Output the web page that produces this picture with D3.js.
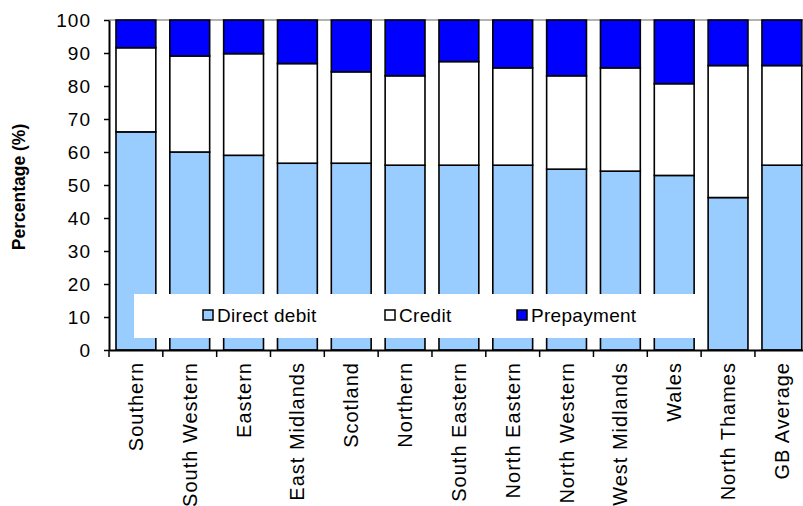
<!DOCTYPE html>
<html><head><meta charset="utf-8">
<script src="https://cdn.jsdelivr.net/npm/d3@7"></script>
<style>body{margin:0;background:#fff}svg{display:block}</style>
</head><body>
<script>
const categories = ["Southern","South Western","Eastern","East Midlands","Scotland","Northern","South Eastern","North Eastern","North Western","West Midlands","Wales","North Thames","GB Average"];
const directDebit = [66.1,60.0,59.0,56.6,56.6,56.0,56.0,56.0,54.8,54.2,52.9,46.2,56.0];
const credit      = [25.5,29.1,30.8,30.2,27.7,27.1,31.4,29.5,28.3,31.3,27.8,40.0,30.2];
const prepayment  = [8.4,10.9,10.2,13.2,15.7,16.9,12.6,14.5,16.9,14.5,19.3,13.8,13.8];
const seriesNames = ["Direct debit","Credit","Prepayment"];
const seriesColors = ["#99CCFF","#FFFFFF","#0000FF"];
const yTicks = [0,10,20,30,40,50,60,70,80,90,100];

const W = 803, H = 506;
const svg = d3.select("body").append("svg").attr("width",W).attr("height",H)
  .style("font-family","'Liberation Sans', Arial, sans-serif");

const x0 = 109, step = 53.83;
const x = d3.scaleBand().domain(categories).range([x0, x0 + step*13]).paddingInner(0.26).paddingOuter(0.13);
const y = d3.scaleLinear().domain([0,100]).range([350,20]);

const rows = categories.map((c,i)=>({cat:c, "Direct debit":directDebit[i], "Credit":credit[i], "Prepayment":prepayment[i]}));
const stacked = d3.stack().keys(seriesNames)(rows);

// top border of plot area
svg.append("line").attr("x1",x0).attr("x2",W).attr("y1",y(100)).attr("y2",y(100))
  .attr("stroke","#999").attr("stroke-width",1.5);

stacked.forEach((s,k)=>{
  svg.append("g").selectAll("rect").data(s).join("rect")
    .attr("x",d=>x(d.data.cat))
    .attr("width",x.bandwidth())
    .attr("y",d=>y(d[1]))
    .attr("height",d=>y(d[0])-y(d[1]))
    .attr("fill",seriesColors[k])
    .attr("stroke","#000").attr("stroke-width",1.6);
});

// legend
const lg = svg.append("g");
lg.append("rect").attr("x",134).attr("y",294).attr("width",572).attr("height",44).attr("fill","#fff");
const legX = [203, 385, 517];
seriesNames.forEach((n,i)=>{
  lg.append("rect").attr("x",legX[i]).attr("y",310).attr("width",10).attr("height",10)
    .attr("fill",seriesColors[i]).attr("stroke","#000").attr("stroke-width",1.5);
  lg.append("text").attr("x",legX[i]+14).attr("y",321.5).text(n)
    .attr("font-size",19).attr("fill","#000").attr("letter-spacing","0.3px");
});

// y axis
const yAxis = svg.append("g").attr("transform",`translate(${x0},0)`)
  .call(d3.axisLeft(y).tickValues(yTicks).tickSize(5).tickSizeOuter(0).tickPadding(13));
yAxis.select(".domain").attr("stroke","#000").attr("stroke-width",2);
yAxis.selectAll(".tick line").attr("stroke","#000").attr("stroke-width",1.5);
yAxis.selectAll(".tick text").attr("font-size",19).attr("fill","#000")
  .attr("font-family","'Liberation Sans', Arial, sans-serif").attr("letter-spacing","1px");

// x axis
const xAxis = svg.append("g").attr("transform",`translate(0,${y(0)})`)
  .call(d3.axisBottom(x).tickSize(0).tickSizeOuter(0));
xAxis.select(".domain").attr("stroke","#000").attr("stroke-width",2);
xAxis.selectAll(".tick text")
  .attr("font-size",20).attr("fill","#000")
  .attr("font-family","'Liberation Sans', Arial, sans-serif")
  .attr("letter-spacing","1px")
  .attr("transform","rotate(-90)")
  .attr("x",-12).attr("y",0).attr("dy","0.35em")
  .style("text-anchor","end");
// boundary ticks
xAxis.selectAll("line.bt").data(d3.range(13)).join("line").attr("class","bt")
  .attr("x1",i=>x0 + i*x.step()).attr("x2",i=>x0 + i*x.step())
  .attr("y1",0).attr("y2",7).attr("stroke","#000").attr("stroke-width",1.5);

// y title
svg.append("text").attr("transform","translate(25,187) rotate(-90)")
  .attr("text-anchor","middle").attr("font-size",17.5).attr("font-weight","bold")
  .text("Percentage (%)");
</script>
</body></html>
